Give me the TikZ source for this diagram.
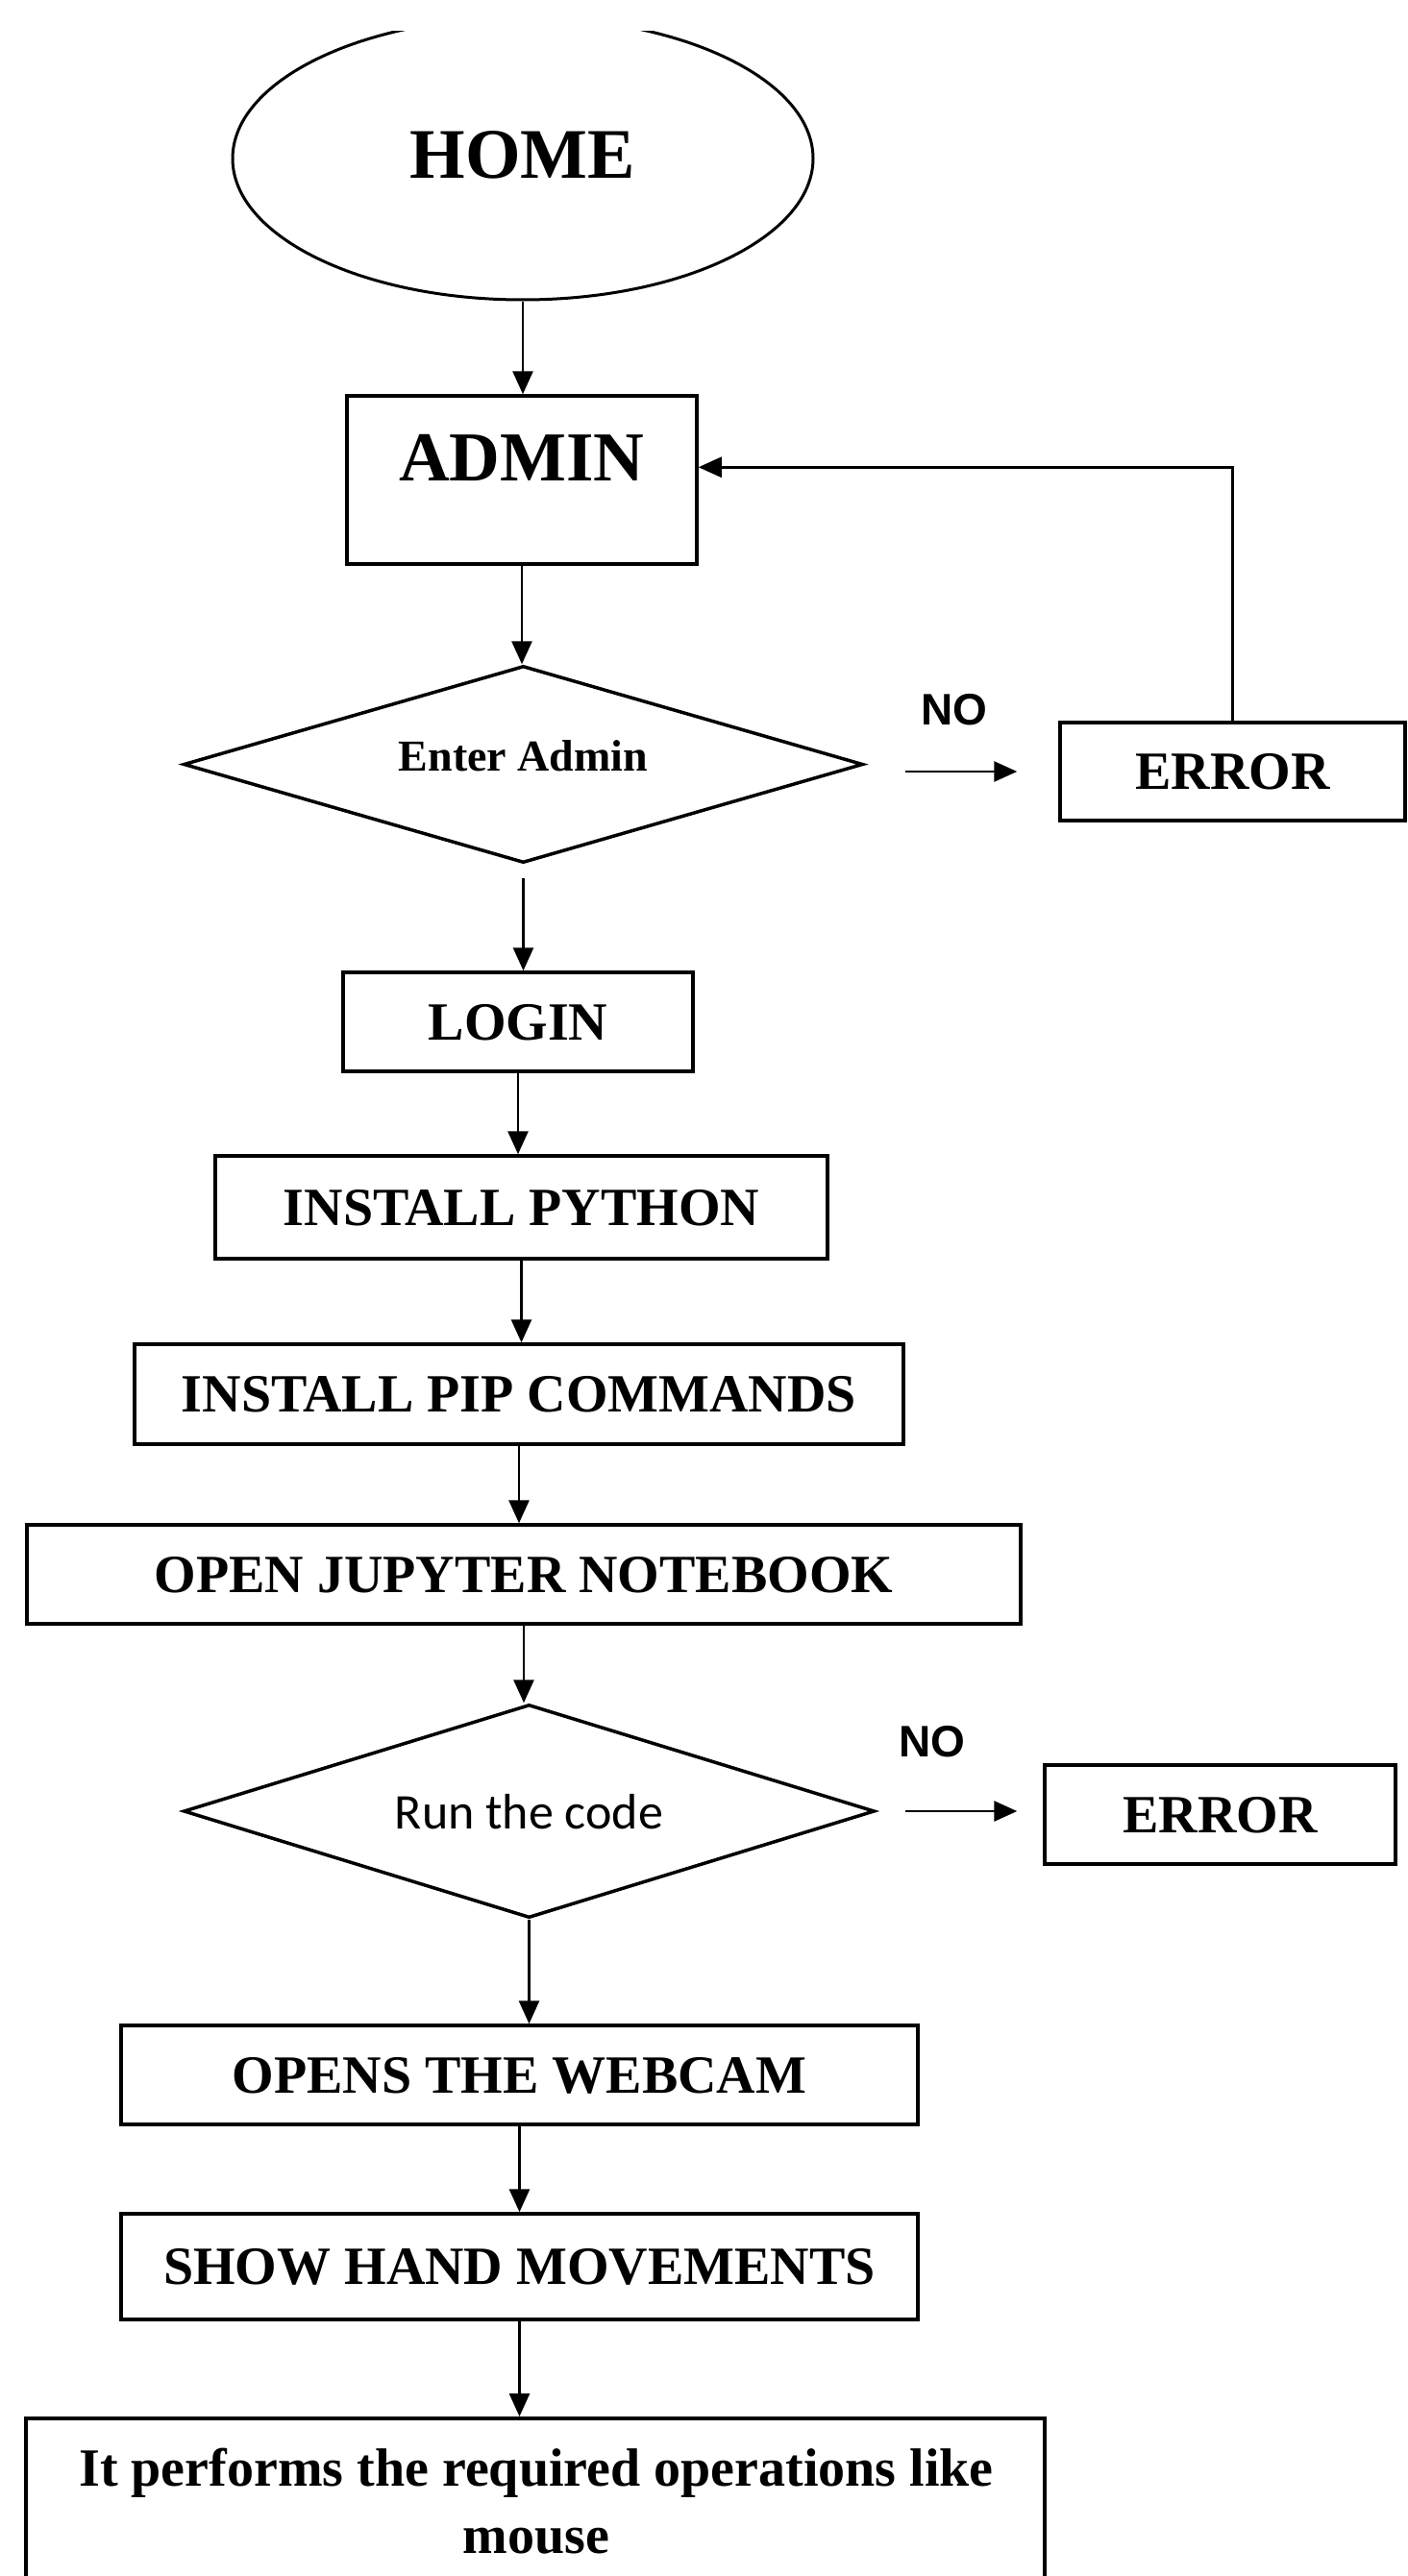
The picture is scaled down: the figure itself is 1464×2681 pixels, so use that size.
\documentclass[tikz,border=0pt]{standalone}
\usepackage{fontspec}
\setmainfont{Liberation Serif}
\newfontfamily\arialfont{Liberation Sans}
\newfontfamily\calfont{Carlito}
\usetikzlibrary{shapes.geometric,arrows.meta,calc}
\begin{document}
\begin{tikzpicture}[x=1pt,y=-1pt,
  flow/.style={line width=2.8pt, -{Triangle[length=24pt,width=21pt]}},
  boxnode/.style={draw, line width=3.5pt, rectangle, inner sep=0pt, font=\fontsize{56}{70}\selectfont\bfseries, text height=37pt, text depth=0pt},
  decision/.style={draw, diamond, line width=3.5pt, inner sep=0pt},
  nolabel/.style={anchor=base, font=\fontsize{46}{50}\selectfont\arialfont\bfseries, inner sep=0pt}
]
\useasboundingbox (0,0) rectangle (1464,2681);
\clip (0,33) rectangle (1464,2681);

\node[draw, ellipse, line width=3pt, minimum width=604pt, minimum height=294pt, inner sep=0pt,
      font=\fontsize{74}{80}\selectfont\bfseries, text height=49pt, text depth=8pt] (home) at (544,165) {HOME\hspace{20pt}};

\node[draw, rectangle, line width=3.5pt, minimum width=364pt, minimum height=175pt, inner sep=0pt,
      font=\fontsize{73}{80}\selectfont\bfseries, text height=48pt, text depth=47pt] (admin) at (543,499.5) {ADMIN};

\node[decision, minimum width=707pt, minimum height=205pt, aspect=3.45,
      font=\fontsize{46}{50}\selectfont\bfseries, text height=31pt, text depth=17pt] (dia1) at (544.5,795.5) {Enter Admin};

\node[boxnode, minimum width=359pt, minimum height=102pt] (err1) at (1282.5,803) {ERROR};
\node[boxnode, minimum width=364pt, minimum height=103pt] (login) at (539,1063.5) {LOGIN};
\node[boxnode, minimum width=637pt, minimum height=107pt] (python) at (542.5,1256.5) {INSTALL PYTHON};
\node[boxnode, minimum width=800pt, minimum height=104pt] (pip) at (540,1451) {INSTALL PIP COMMANDS};
\node[boxnode, minimum width=1034pt, minimum height=103pt] (jupyter) at (545,1638.5) {OPEN JUPYTER NOTEBOOK};

\node[decision, minimum width=719pt, minimum height=222pt, aspect=3.24,
      font=\fontsize{52}{60}\selectfont\calfont, text height=36pt, text depth=0pt] (dia2) at (550.5,1885) {Run the code\hspace{33pt}};
\node[boxnode, minimum width=365pt, minimum height=103pt] (err2) at (1269.5,1888.5) {ERROR};

\node[boxnode, minimum width=829pt, minimum height=103pt] (webcam) at (540.5,2159.5) {OPENS THE WEBCAM};
\node[boxnode, minimum width=829pt, minimum height=110pt] (hand) at (540.5,2359) {SHOW HAND MOVEMENTS};

\node[draw, rectangle, line width=3.5pt, minimum width=1060pt, minimum height=220pt, anchor=north, inner sep=0pt] (final) at (557,2515) {};
\node[anchor=north, font=\fontsize{56}{70}\selectfont\bfseries, align=center, inner sep=0pt] (finaltxt) at (558,2548)
  {It performs the required operations like\\mouse};

\node[nolabel] (no1) at (993,754) {NO};
\node[nolabel] (no2) at (970,1828) {NO};

\draw[flow] (home.south) -- (home.south |- admin.north);
\draw[flow] (admin.south) -- (admin.south |- dia1.north);
\draw[flow, shorten <=14pt] (dia1.south) -- (dia1.south |- login.north);
\draw[flow] (login.south) -- (login.south |- python.north);
\draw[flow] (python.south) -- (python.south |- pip.north);
\draw[flow] (pip.south) -- (pip.south |- jupyter.north);
\draw[flow] (jupyter.south) -- (jupyter.south |- dia2.north);
\draw[flow] (dia2.south) -- (dia2.south |- webcam.north);
\draw[flow] (webcam.south) -- (webcam.south |- hand.north);
\draw[flow] (hand.south) -- (hand.south |- final.north);

\draw[flow, shorten <=42pt, shorten >=43pt] (err1.west -| dia1.east) -- (err1.west);
\draw[flow, shorten <=30pt, shorten >=27pt] (dia2.east) -- (dia2.east -| err2.west);
\draw[flow] (err1.north) |- ([yshift=-76pt]admin.north east);
\end{tikzpicture}
\end{document}
